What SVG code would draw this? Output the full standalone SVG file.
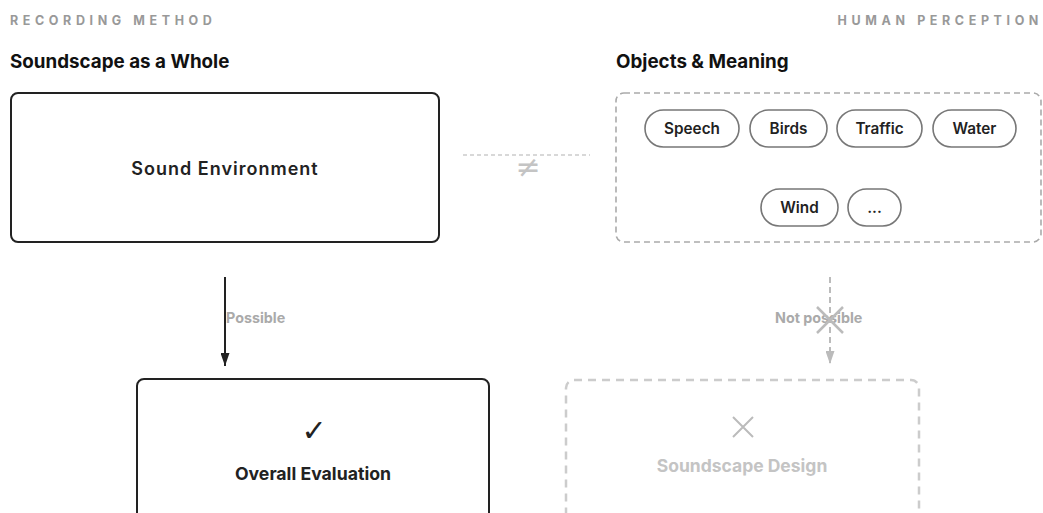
<svg xmlns="http://www.w3.org/2000/svg" width="1043" height="513" viewBox="0 0 1043 513">
<style>
text{font-family:Inter,"Liberation Sans",sans-serif}
.cap{font-size:12.5px;font-weight:700;fill:#999;letter-spacing:4.6px}
.h{font-size:18.8px;font-weight:700;fill:#111}
.solid{fill:#fff;stroke:#222;stroke-width:2}
.dash{fill:#fff;stroke:#aaa;stroke-width:1.6;stroke-dasharray:6 4}
.dash2{fill:#fff;stroke:#ccc;stroke-width:2.5;stroke-dasharray:8 6}
.pill{fill:#fff;stroke:#777;stroke-width:1.6}
.pt{font-size:15.3px;font-weight:600;fill:#222;text-anchor:middle}
.lbl{font-size:14.3px;font-weight:700;fill:#aaa}
.sym{font-family:'DejaVu Sans',sans-serif;text-anchor:middle}
</style>
<defs>
<marker id="ah" viewBox="0 0 13 9" refX="13" refY="4.5" markerWidth="13" markerHeight="9" markerUnits="userSpaceOnUse" orient="auto"><path d="M0,0L13,4.5L0,9z" fill="#222"/></marker>
<marker id="ahg" viewBox="0 0 13 9" refX="13" refY="4.5" markerWidth="13" markerHeight="9" markerUnits="userSpaceOnUse" orient="auto"><path d="M0,0L13,4.5L0,9z" fill="#bbb"/></marker>
</defs>
<rect width="1043" height="513" fill="#fff"/>
<text class="cap" x="10" y="25">RECORDING METHOD</text>
<text class="cap" x="1043" y="25" text-anchor="end">HUMAN PERCEPTION</text>
<text class="h" x="10" y="68">Soundscape as a Whole</text>
<text class="h" x="616" y="68">Objects &amp; Meaning</text>

<g id="connectors">
<line x1="463" y1="155" x2="590" y2="155" stroke="#ccc" stroke-width="1.5" stroke-dasharray="4 3"/>
<text class="sym" x="528" y="177" font-size="30" fill="#c4c4c4">≠</text>
<line x1="225" y1="277" x2="225" y2="366" stroke="#222" stroke-width="2" marker-end="url(#ah)"/>
<text class="lbl" x="226" y="323">Possible</text>
<line x1="830" y1="277" x2="830" y2="364" stroke="#bbb" stroke-width="2" stroke-dasharray="6 4" marker-end="url(#ahg)"/>
<text class="lbl" x="775" y="323">Not possible</text>
<path d="M817,307L843,333M843,307L817,333" stroke="#bbb" stroke-width="2.5" fill="none"/>
</g>

<g id="sound-environment">
<rect class="solid" x="11" y="93" width="428" height="149" rx="7"/>
<text x="225" y="175" font-size="18" font-weight="600" fill="#222" text-anchor="middle" letter-spacing="1">Sound Environment</text>
</g>

<g id="objects-meaning">
<rect class="dash" x="616" y="93" width="425" height="149" rx="8"/>
<g id="pill-speech"><rect class="pill" x="645" y="110" width="94" height="37" rx="18.5"/><text class="pt" x="692" y="134">Speech</text></g>
<g id="pill-birds"><rect class="pill" x="750" y="110" width="77" height="37" rx="18.5"/><text class="pt" x="788.5" y="134">Birds</text></g>
<g id="pill-traffic"><rect class="pill" x="837" y="110" width="85" height="37" rx="18.5"/><text class="pt" x="879.5" y="134">Traffic</text></g>
<g id="pill-water"><rect class="pill" x="933" y="110" width="83" height="37" rx="18.5"/><text class="pt" x="974.5" y="134">Water</text></g>
<g id="pill-wind"><rect class="pill" x="761" y="189" width="77" height="37" rx="18.5"/><text class="pt" x="799.5" y="213">Wind</text></g>
<g id="pill-more"><rect class="pill" x="848" y="189" width="53" height="37" rx="18.5"/><text class="pt" x="874.5" y="213">...</text></g>
</g>

<g id="overall-evaluation">
<rect class="solid" x="137" y="379" width="352" height="145" rx="7"/>
<text class="sym" x="314" y="441" font-size="30" fill="#222">✓</text>
<text x="313" y="480" font-size="17.7" font-weight="700" fill="#222" text-anchor="middle">Overall Evaluation</text>
</g>

<g id="soundscape-design">
<rect class="dash2" x="566" y="380" width="353" height="144" rx="8"/>
<path d="M733,417L753,437M753,417L733,437" stroke="#bbb" stroke-width="2" fill="none"/>
<text x="742" y="472" font-size="17.5" font-weight="700" fill="#c4c4c4" text-anchor="middle">Soundscape Design</text>
</g>
</svg>
